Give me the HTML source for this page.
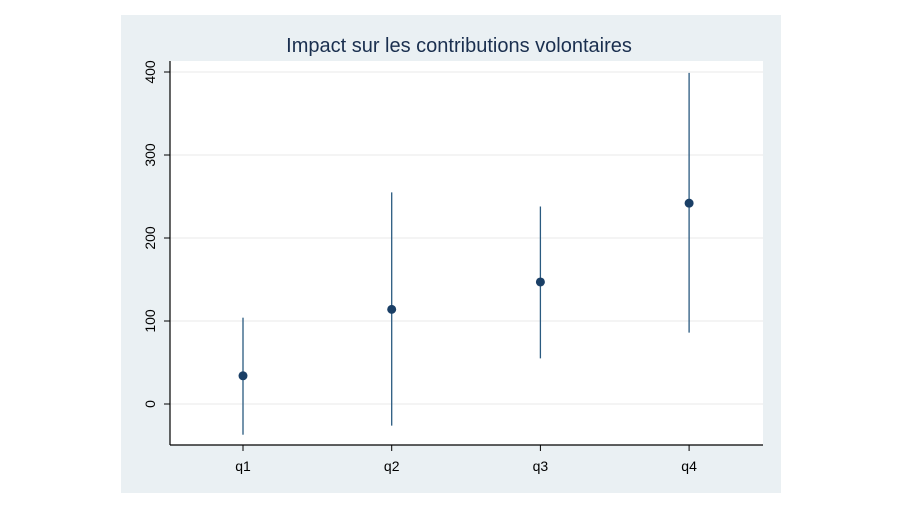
<!DOCTYPE html>
<html><head><meta charset="utf-8"><style>
html,body{margin:0;padding:0;background:#fff;}
svg{display:block;font-family:"Liberation Sans",Arial,sans-serif;}
</style></head><body>
<svg width="915" height="507" viewBox="0 0 915 507">
<rect x="121" y="15" width="660" height="478" fill="#eaf0f3"/>
<rect x="170" y="61" width="593" height="384" fill="#ffffff"/>
<text x="459" y="52" font-size="20" fill="#1a2f4f" text-anchor="middle">Impact sur les contributions volontaires</text>
<g id="grid"></g>
<g id="axes"></g>
<g id="marks"></g>
</svg>
<script>
const categories = ["q1","q2","q3","q4"];
const estimates = [34, 114, 147, 242];
const upperCI = [104, 255, 238, 399];
const lowerCI = [-37, -26, 55, 86];
const yTicks = [0, 100, 200, 300, 400];

const NS = "http://www.w3.org/2000/svg";
const y = v => 404 - v * 0.83;
const x = i => 243 + i * 148.7;
function mk(tag, attrs, parent){const e=document.createElementNS(NS,tag);for(const k in attrs)e.setAttribute(k,attrs[k]);parent.appendChild(e);return e;}
const grid=document.getElementById("grid"), axes=document.getElementById("axes"), marks=document.getElementById("marks");

yTicks.forEach(t=>{
  const g=mk("line",{x1:170,x2:763,y1:y(t),y2:y(t),stroke:"#eaeaea","stroke-width":1},grid);
  
  
  const tk=mk("line",{x1:164,x2:170,y1:y(t),y2:y(t),stroke:"#000","stroke-width":1},axes);
  
  
  const lb=mk("text",{x:0,y:0,"font-size":14,fill:"#000","text-anchor":"middle",transform:`translate(155,${y(t)}) rotate(-90)`},axes);
  lb.textContent=t;
  
  
});
const ya=mk("line",{x1:170,x2:170,y1:61,y2:445,stroke:"#000","stroke-width":1.2},axes);


const xa=mk("line",{x1:170,x2:763,y1:445,y2:445,stroke:"#000","stroke-width":1.2},axes);



categories.forEach((c,i)=>{
  const tk=mk("line",{x1:x(i),x2:x(i),y1:445,y2:451,stroke:"#000","stroke-width":1},axes);
  
  
  const lb=mk("text",{x:x(i),y:471,"font-size":14,fill:"#000","text-anchor":"middle"},axes);
  lb.textContent=c;
  
  
  const ci=mk("line",{x1:x(i),x2:x(i),y1:y(upperCI[i]),y2:y(lowerCI[i]),stroke:"#2a5a80","stroke-width":1.3},marks);
  
  
  const pt=mk("circle",{cx:x(i),cy:y(estimates[i]),r:4.5,fill:"#1a3f66"},marks);
  
  
});
</script>
</body></html>
